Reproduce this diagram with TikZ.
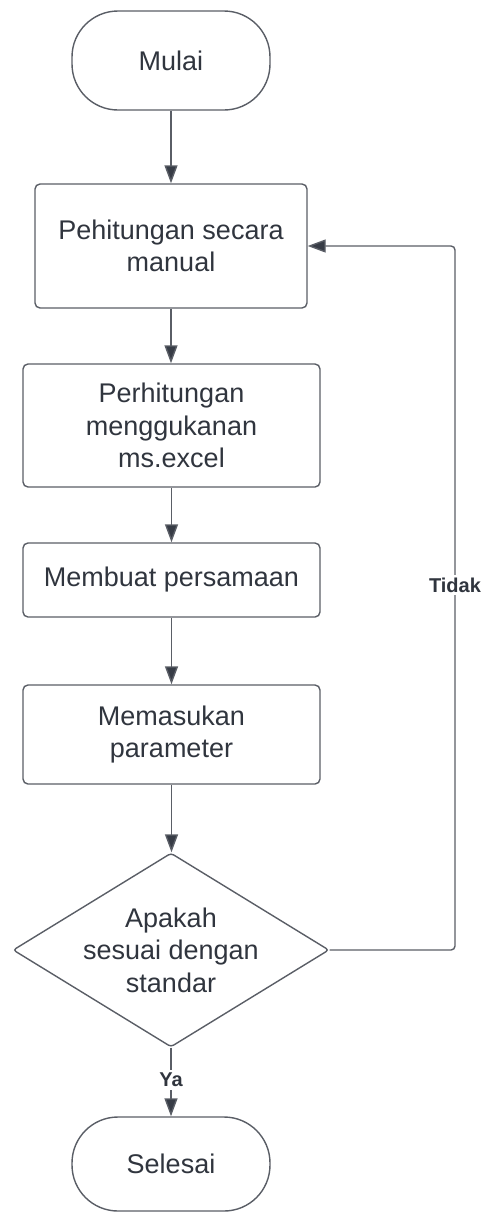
\documentclass[tikz,border=0pt]{standalone}
\usepackage{fontspec}
\setmainfont{Liberation Sans}
\usetikzlibrary{shapes.geometric,arrows.meta}
\definecolor{lineC}{RGB}{90,94,102}
\definecolor{textC}{RGB}{48,53,62}
\definecolor{headC}{RGB}{55,60,70}
\tikzset{
  every node/.style={text=textC},
  base/.style={draw=lineC, line width=1.4pt, align=center, inner sep=0pt,
    font=\fontsize{27}{32.5}\selectfont},
  proc/.style={base, rectangle, rounded corners=5pt},
  term/.style={base, rectangle, rounded corners=46pt, minimum width=198pt},
  dia/.style={draw=lineC, line width=1.4pt, diamond, inner sep=0pt, rounded corners=3pt,
    minimum width=316pt, minimum height=194pt},
  txt/.style={align=center, font=\fontsize{27}{32.5}\selectfont},
  arr/.style={draw=lineC, line width=1.4pt, -{Triangle[width=13pt,length=18pt,fill=headC]}},
  lbl/.style={fill=white, font=\bfseries\fontsize{20}{23}\selectfont, inner sep=3pt}
}
\begin{document}
\begin{tikzpicture}[x=1pt,y=-1pt]
\useasboundingbox (0,0) rectangle (486,1213);
\node[term, minimum height=99pt] (mulai) at (171,60.5) {Mulai};
\node[proc, minimum width=272pt, minimum height=124pt] (b1) at (171,246) {Pehitungan secara\\manual};
\node[proc, minimum width=297pt, minimum height=123pt] (b2) at (171.5,425.5) {Perhitungan\\menggukanan\\ms.excel};
\node[proc, minimum width=297pt, minimum height=74pt] (b3) at (171.5,580) {Membuat persamaan};
\node[proc, minimum width=297pt, minimum height=99pt] (b4) at (171.5,734.5) {Memasukan\\parameter};
\node[dia] (d) at (171,950) {};
\node[txt] (dt) at (d.center) {Apakah\\sesuai dengan\\standar};
\node[term, minimum height=94pt] (selesai) at (171,1164) {Selesai};

\draw[arr] (mulai.south) -- (b1.north);
\draw[arr] (b1.south) -- (b1.south |- b2.north);
\draw[arr] (b2.south) -- (b3.north);
\draw[arr] (b3.south) -- (b4.north);
\draw[arr] (b4.south) -- (b4.south |- d.north);
\draw[arr] (d.south) -- (d.south |- selesai.north);
\coordinate (rc) at (455,950);
\draw[arr, rounded corners=4pt] (d.east) -- (rc) |- (b1.east);
\node[lbl] (tidak) at (455,585) {Tidak};
\node[lbl] (ya) at (171,1080) {Ya};
\end{tikzpicture}
\end{document}
